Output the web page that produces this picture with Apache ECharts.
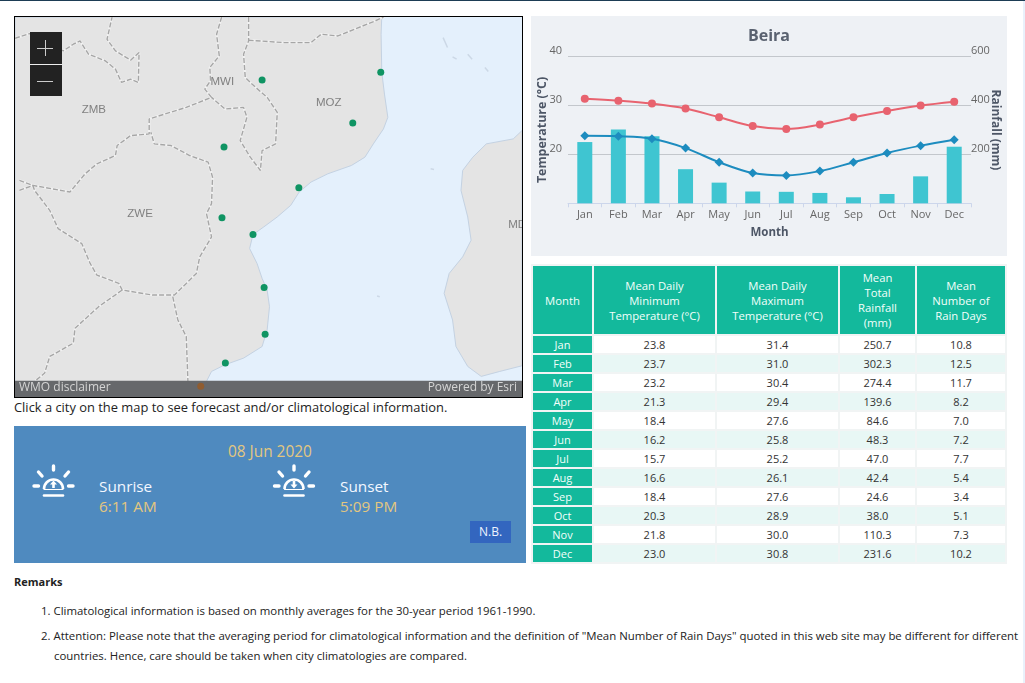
<!DOCTYPE html>
<html><head><meta charset="utf-8">
<script src="https://cdn.jsdelivr.net/npm/echarts@6/dist/echarts.min.js"></script>
<style>
html,body{margin:0;padding:0;background:#fff;width:1025px;height:683px;overflow:hidden;font-family:"Open Sans",sans-serif;}
.abs{position:absolute;white-space:nowrap;}
#topbar{left:0;top:0;width:1025px;height:1px;background:#1d3d55;}
#edge{left:1023px;top:1px;width:2px;height:682px;background:#e9f1fb;}
#map{left:14px;top:16px;width:507px;height:380px;border:1px solid #000;}
#chart{left:531px;top:16px;width:476px;height:240px;}
#click{left:14px;top:398px;font-size:12.9px;line-height:18px;color:#222;}
#sun{left:14px;top:426px;width:512px;height:137px;background:#4f8abf;}
#tbl{left:531px;top:264px;border-collapse:separate;border-spacing:2px;table-layout:fixed;width:476px;background:#f1f4f4;font-size:11px;color:#333;white-space:normal;}
#tbl th{background:#13b99c;color:#f4fffb;font-weight:400;font-size:11.3px;height:68px;padding:0;line-height:15px;text-align:center;}
#tbl td{height:17px;padding:0;line-height:17px;text-align:center;background:#fff;}
#tbl tr:nth-child(even) td{background:#e8f7f5;}
#tbl td.m,#tbl tr:nth-child(even) td.m{background:#13b99c;color:#f4fffb;}
.rem{font-size:11.42px;line-height:16px;color:#222;}
</style></head><body>
<div id="topbar" class="abs"></div><div id="edge" class="abs"></div>
<div id="map" class="abs"></div>
<div id="click" class="abs">Click a city on the map to see forecast and/or climatological information.</div>
<div id="chart" class="abs"></div>
<div id="sun" class="abs"></div>
<svg class="abs" id="icons" style="left:0;top:420px" width="530" height="100"></svg>
<div class="abs" style="left:228px;top:442px;font-size:15.4px;line-height:20px;color:#e3c77f">08 Jun 2020</div>
<div class="abs" style="left:99px;top:476px;font-size:15.3px;line-height:20px;color:#f4f8ff">Sunrise</div>
<div class="abs" style="left:99px;top:496px;font-size:15.3px;line-height:20px;color:#e3c77f">6:11 AM</div>
<div class="abs" style="left:340px;top:476px;font-size:15.3px;line-height:20px;color:#f4f8ff">Sunset</div>
<div class="abs" style="left:340px;top:496px;font-size:15.3px;line-height:20px;color:#e3c77f">5:09 PM</div>
<div class="abs" style="left:470px;top:521px;width:41px;height:22px;background:#3366bf;color:#eef4ff;font-size:12px;line-height:22px;text-align:center">N.B.</div>
<table id="tbl" class="abs"></table>
<div class="abs rem" style="left:14px;top:574px;font-weight:700;font-size:11px">Remarks</div>
<div class="abs rem" style="left:41px;top:603px">1. Climatological information is based on monthly averages for the 30-year period 1961-1990.</div>
<div class="abs rem" style="left:41px;top:628px">2. Attention: Please note that the averaging period for climatological information and the definition of "Mean Number of Rain Days" quoted in this web site may be different for different</div>
<div class="abs rem" style="left:54px;top:648px">countries. Hence, care should be taken when city climatologies are compared.</div>
<script>
const months=['Jan','Feb','Mar','Apr','May','Jun','Jul','Aug','Sep','Oct','Nov','Dec'];
const minTemp=[23.8,23.7,23.2,21.3,18.4,16.2,15.7,16.6,18.4,20.3,21.8,23.0];
const maxTemp=[31.4,31.0,30.4,29.4,27.6,25.8,25.2,26.1,27.6,28.9,30.0,30.8];
const rainfall=[250.7,302.3,274.4,139.6,84.6,48.3,47.0,42.4,24.6,38.0,110.3,231.6];
const rainDays=[10.8,12.5,11.7,8.2,7.0,7.2,7.7,5.4,3.4,5.1,7.3,10.2];
const tableHeads=['Month','Mean Daily<br>Minimum<br>Temperature (°C)','Mean Daily<br>Maximum<br>Temperature (°C)','Mean<br>Total<br>Rainfall<br>(mm)','Mean<br>Number of<br>Rain Days'];
const colWidths=[59,121,121,75,88];

const cityNames=['Pemba','Lichinga','Nampula','Tete','Quelimane','Chimoio','Beira','Vilankulo','Inhambane','Xai-Xai'];
const cityX=[1127,775,1044,662,884,656,748,781,784,666];
const cityY=[214,238,367,439,562,652,703,862,1003,1090];
const selectedCity=[[593,1160]];
const countryLabels=[['ZMB',240,327],['MWI',622,242],['MOZ',935,305],['ZWE',375,642],['MDG',1505,675]];
const mainland=[[1130,48],[1128,100],[1130,214],[1138,280],[1148,350],[1135,385],[1105,430],[1080,470],[1040,495],[970,520],[920,545],[885,575],[860,615],[820,650],[780,680],[748,703],[738,745],[760,790],[775,835],[790,870],[797,920],[790,990],[775,1040],[720,1075],[665,1095],[625,1115],[610,1145],[610,1192],[42,1192],[42,48]];
const madagascar=[[1546,390],[1520,415],[1440,430],[1400,470],[1370,510],[1365,570],[1385,650],[1395,720],[1370,770],[1330,820],[1315,880],[1340,960],[1350,1040],[1385,1100],[1425,1130],[1480,1115],[1546,1098]];
const borders=[
 [[42,112],[85,98],[185,150],[215,130],[235,120],[260,160],[310,180],[340,205],[358,245],[385,235],[408,245],[410,155],[385,178],[340,150],[315,115],[330,48]],
 [[655,48],[640,100],[648,165],[620,200],[622,240],[605,265],[625,290],[550,320],[440,355],[440,400],[385,405],[345,435],[340,465],[285,490],[250,520],[205,575],[150,565],[95,555],[55,570]],
 [[55,540],[95,555],[100,570],[145,630],[170,685],[240,730],[265,790],[285,825],[350,850],[360,870],[450,885],[515,885],[580,820],[590,770],[625,710],[610,640],[625,610],[628,530],[615,485],[560,465],[505,435],[455,430],[445,395]],
 [[360,870],[290,920],[220,985],[215,1030],[145,1070],[130,1120],[100,1145]],
 [[510,890],[525,960],[550,1010],[555,1145]],
 [[735,48],[735,120],[720,160],[725,230],[745,250],[790,290],[820,335],[815,430],[775,450],[770,510],[740,470],[710,420],[730,350],[720,320],[665,325],[625,290]],
 [[735,118],[840,125],[920,125],[950,100],[1000,105],[1110,60],[1135,48]]
];
const islands=[[[1312,110],[1325,140]],[[1340,168],[1352,175]],[[1385,160],[1398,175]],[[1436,200],[1446,212]],[[1275,505],[1285,507]],[[1116,888],[1124,890]]];

/* table */
const tbl=document.getElementById('tbl');
let h='<colgroup>'+colWidths.map(w=>`<col style="width:${w}px">`).join('')+'</colgroup><thead><tr>'+tableHeads.map(t=>`<th>${t}</th>`).join('')+'</tr></thead><tbody>';
months.forEach((m,i)=>{h+=`<tr><td class="m">${m}</td><td>${minTemp[i].toFixed(1)}</td><td>${maxTemp[i].toFixed(1)}</td><td>${rainfall[i].toFixed(1)}</td><td>${rainDays[i].toFixed(1)}</td></tr>`;});
tbl.innerHTML=h+'</tbody>';

/* climate chart */
const chart=echarts.init(document.getElementById('chart'));
const tickCol='#ccd6eb',txt='#666',nameCol='#4d5666';
chart.setOption({
 animation:false,backgroundColor:'#eef1f5',
 textStyle:{fontFamily:'Open Sans'},
 title:{text:'Beira',left:'center',top:7,textStyle:{fontFamily:'Open Sans',fontSize:16,fontWeight:700,color:'#5a6270'}},
 grid:{left:37,right:36,top:40.7,bottom:52.7,outerBoundsMode:'none',containLabel:false},
 xAxis:{type:'category',data:months,boundaryGap:true,
  axisLine:{lineStyle:{color:tickCol}},axisTick:{show:true,length:4,alignWithLabel:false,lineStyle:{color:tickCol}},
  axisLabel:{color:txt,fontSize:11,margin:6,interval:0},
  name:'Month',nameLocation:'middle',nameGap:23,nameMoveOverlap:false,nameTextStyle:{fontFamily:'Open Sans',fontSize:11.5,fontWeight:700,color:nameCol}},
 yAxis:[
  {type:'value',min:10,max:40,interval:10,position:'left',
   axisLine:{show:false},axisTick:{show:false},
   splitLine:{show:true,showMinLine:false,lineStyle:{color:'#c3c7cc',width:1}},
   axisLabel:{color:txt,fontSize:11,margin:6,verticalAlign:'bottom',formatter:v=>v===10?'':String(v)},
   name:'Temperature (°C)',nameLocation:'middle',nameGap:20,nameRotate:90,nameMoveOverlap:false,nameTextStyle:{fontFamily:'Open Sans',fontSize:12.4,fontWeight:700,color:nameCol}},
  {type:'value',min:0,max:600,interval:200,position:'right',
   axisLine:{show:false},axisTick:{show:false},splitLine:{show:false},
   axisLabel:{color:txt,fontSize:11,margin:0,verticalAlign:'bottom',formatter:v=>v===0?'':String(v)},
   name:'Rainfall (mm)',nameLocation:'middle',nameGap:18,nameRotate:-90,nameMoveOverlap:false,nameTextStyle:{fontFamily:'Open Sans',fontSize:12,fontWeight:700,color:nameCol}}
 ],
 series:[
  {name:'Rainfall',type:'bar',yAxisIndex:1,data:rainfall,barWidth:15,itemStyle:{color:'#3fc5d1'}},
  {name:'Maximum',type:'line',yAxisIndex:0,data:maxTemp,smooth:0.35,symbol:'circle',symbolSize:8,showAllSymbol:true,lineStyle:{color:'#e8636f',width:2},itemStyle:{color:'#e8636f'}},
  {name:'Minimum',type:'line',yAxisIndex:0,data:minTemp,smooth:0.35,symbol:'diamond',symbolSize:9,showAllSymbol:true,lineStyle:{color:'#1d8cbf',width:2},itemStyle:{color:'#1d8cbf'}}
 ]
});

/* map */
const map=echarts.init(document.getElementById('map'));
function poly(shape,fill,stroke){return {type:'custom',silent:true,z:1,coordinateSystem:'cartesian2d',data:[0],clip:true,
 renderItem:(p,api)=>({type:'polygon',shape:{points:shape.map(pt=>api.coord(pt))},style:{fill:fill,stroke:stroke,lineWidth:1}})};}
const lineBase=(pts,color,width,type,z)=>({type:'line',data:pts,symbol:'none',silent:true,z:z,lineStyle:{color:color,width:width,type:type}});
map.setOption({
 animation:false,backgroundColor:'#e4f0fc',
 grid:{left:0,right:0,top:0,bottom:0,outerBoundsMode:'none'},
 xAxis:{type:'value',min:42,max:1546,show:false},
 yAxis:{type:'value',min:48,max:1192,inverse:true,show:false},
 series:[
  poly(mainland,'#e4e4e4','#c4d2e2'),poly(madagascar,'#e4e4e4','#c4d2e2'),
  ...borders.map(b=>lineBase(b,'#f1f1f1',2.4,'solid',2)),
  ...borders.map(b=>lineBase(b,'#a6a6a6',1.4,[5,2],3)),
  ...islands.map(b=>lineBase(b,'#ccd8e6',1.5,'solid',2)),
  {type:'scatter',data:countryLabels.map(l=>({value:[l[1],l[2]],name:l[0]})),symbolSize:0,silent:true,z:4,
   label:{show:true,position:'right',distance:0,formatter:'{b}',fontFamily:'Liberation Sans',fontSize:11.5,color:'#666'}},
  {type:'scatter',data:cityX.map((x,i)=>[x,cityY[i]]),symbol:'circle',symbolSize:7,z:6,itemStyle:{color:'#0f9463',opacity:1}},
  {type:'scatter',data:selectedCity,symbol:'circle',symbolSize:7,z:12,itemStyle:{color:'#8f5c30',opacity:1}}
 ],
 graphic:[
  {type:'rect',z:10,shape:{x:0,y:363.7,width:507,height:16.3},style:{fill:'#66686b'}},
  {type:'text',z:11,x:4,y:365,style:{text:'WMO disclaimer',fill:'#d4d4d4',font:'12px "Open Sans"'}},
  {type:'text',z:11,x:502,y:365,style:{text:'Powered by Esri',fill:'#d4d4d4',font:'12px "Open Sans"',textAlign:'right'}},
  {type:'rect',z:20,shape:{x:15,y:15,width:32,height:64},style:{fill:'#222'}},
  {type:'rect',z:21,shape:{x:15,y:47,width:32,height:1},style:{fill:'#eee'}},
  {type:'rect',z:21,shape:{x:22,y:31,width:16,height:1},style:{fill:'#ccc'}},
  {type:'rect',z:21,shape:{x:30,y:23,width:1,height:16},style:{fill:'#ccc'}},
  {type:'rect',z:21,shape:{x:22,y:64,width:16,height:1},style:{fill:'#ccc'}}
 ]
});

/* sun icons */
function sun(dx,up){
 const c=53.5+dx,W='#fff';
 const ln=(a,b,d,e,w)=>`<line x1="${a}" y1="${b}" x2="${d}" y2="${e}" stroke="${W}" stroke-width="${w}" stroke-linecap="round"/>`;
 let s=ln(c,46,c,50,3.4)+ln(c-15,52,c-11.5,56,3.4)+ln(c+15,52,c+11.5,56,3.4)+ln(c-19.5,66,c-15,66,3.4)+ln(c+15,66,c+19.5,66,3.4)+ln(c-9.5,75.5,c+9.5,75.5,2.6);
 s+=`<path d="M${c-9.5} 69 A9.5 9.5 0 0 1 ${c+9.5} 69" fill="none" stroke="${W}" stroke-width="2.6"/>`;
 s+=ln(c-9.5,69.5,c+9.5,69.5,1.2);
 s+=up?`<path d="M${c} 60.5 l3.5 4 h-2.2 v3.5 h-2.6 v-3.5 h-2.2z" fill="${W}"/>`:`<path d="M${c} 68.5 l3.5 -4 h-2.2 v-3.5 h-2.6 v3.5 h-2.2z" fill="${W}"/>`;
 return s;
}
document.getElementById('icons').innerHTML=sun(0,true)+sun(240.5,false);
</script>
</body></html>
